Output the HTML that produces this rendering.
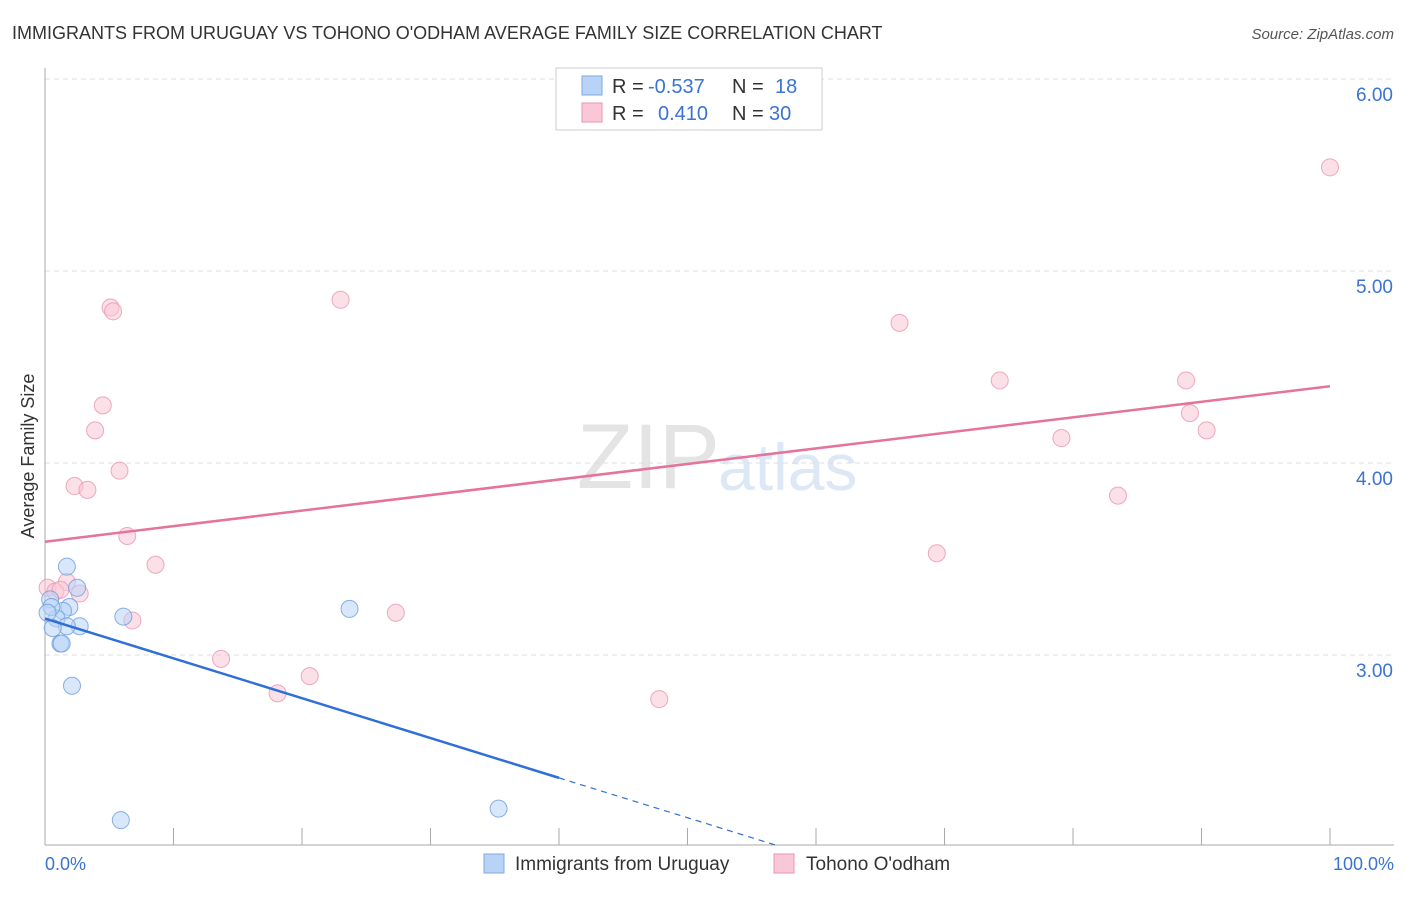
<!DOCTYPE html>
<html><head><meta charset="utf-8"><style>
body{margin:0;background:#fff;font-family:"Liberation Sans",sans-serif}
svg text{font-family:"Liberation Sans",sans-serif}
</style></head><body>
<svg id="c" width="1406" height="892" xmlns="http://www.w3.org/2000/svg">
<text x="12" y="39" font-size="18" fill="#333">IMMIGRANTS FROM URUGUAY VS TOHONO O'ODHAM AVERAGE FAMILY SIZE CORRELATION CHART</text>
<text x="1394" y="39" font-size="15" fill="#555" font-style="italic" text-anchor="end">Source: ZipAtlas.com</text>
<text x="720" y="488" font-size="92" fill="#e4e4e4" text-anchor="end" font-family="Liberation Serif">ZIP</text>
<text x="718" y="490" font-size="66" fill="#dce8f5">atlas</text>
<text transform="translate(34,456) rotate(-90)" font-size="18" fill="#333" text-anchor="middle">Average Family Size</text>
<g id="grid"></g><g id="marks"></g>
<rect x="556" y="68" width="266" height="62" fill="#fff" stroke="#ccc"/>
<rect x="582" y="76" width="20" height="19" fill="#b8d3f5" stroke="#7fa9e0"/>
<rect x="582" y="103" width="20" height="19" fill="#f9c7d6" stroke="#e995b2"/>
<text y="93" font-size="20"><tspan x="612" fill="#333">R = </tspan><tspan x="648" fill="#3a73d1">-0.537</tspan><tspan x="732" fill="#333">N = </tspan><tspan x="775" fill="#3a73d1">18</tspan></text>
<text y="120" font-size="20"><tspan x="612" fill="#333">R = </tspan><tspan x="658" fill="#3a73d1">0.410</tspan><tspan x="732" fill="#333">N = </tspan><tspan x="769" fill="#3a73d1">30</tspan></text>
<text x="45" y="870" font-size="18" fill="#3a73d1">0.0%</text>
<text x="1394" y="870" font-size="18" fill="#3a73d1" text-anchor="end">100.0%</text>
<rect x="484" y="854" width="20" height="19" fill="#b8d3f5" stroke="#7fa9e0"/>
<text x="515" y="870" font-size="19" fill="#333">Immigrants from Uruguay</text>
<rect x="774" y="854" width="20" height="19" fill="#f9c7d6" stroke="#e995b2"/>
<text x="806" y="870" font-size="19" fill="#333">Tohono O'odham</text>
</svg>
<script>
const yTicks=[3,4,5,6];
const yTickLabels=["3.00","4.00","5.00","6.00"];
const blueX=[1.7,2.5,0.4,1.9,1.4,0.9,2.7,1.7,0.6,1.2,1.3,2.1,0.5,6.1,23.7,35.3,5.9,0.2];
const blueY=[3.46,3.35,3.29,3.25,3.23,3.19,3.15,3.15,3.14,3.06,3.06,2.84,3.25,3.20,3.24,2.20,2.14,3.22];
const pinkX=[5.1,5.3,23.0,4.5,3.9,5.8,2.3,3.3,6.4,8.6,1.7,2.7,0.2,0.8,1.2,6.8,27.3,13.7,20.6,18.1,47.8,66.5,74.3,88.8,89.1,90.4,79.1,83.5,69.4,100];
const pinkY=[4.81,4.79,4.85,4.30,4.17,3.96,3.88,3.86,3.62,3.47,3.38,3.32,3.35,3.33,3.34,3.18,3.22,2.98,2.89,2.80,2.77,4.73,4.43,4.43,4.26,4.17,4.13,3.83,3.53,5.54];
const blueTrend=[3.19,-0.02075];
const pinkTrend=[3.59,0.0081];
const NS="http://www.w3.org/2000/svg";
const X=p=>45+p*12.85, Y=v=>655-(v-3)*192;
function mk(t,a,par){const e=document.createElementNS(NS,t);for(const k in a)e.setAttribute(k,a[k]);document.getElementById(par).appendChild(e);return e;}
yTicks.forEach((v,i)=>{
 const l=mk('line',{x1:45,x2:1394,y1:Y(v),y2:Y(v),stroke:'#ddd','stroke-dasharray':'5,4'},'grid');
 
 
 const t=mk('text',{x:1393,y:Y(v)+22,'font-size':19,fill:'#3a73d1','text-anchor':'end'},'grid');t.textContent=yTickLabels[i];
 
 
});
const ax=mk('line',{x1:45,x2:45,y1:68,y2:845,stroke:'#aaa'},'grid');


const bx=mk('line',{x1:45,x2:1394,y1:845,y2:845,stroke:'#aaa'},'grid');


for(let i=0;i<=10;i++){const t=mk('line',{x1:X(i*10),x2:X(i*10),y1:828,y2:845,stroke:'#aaa'},'grid');
 
 }
function dots(xs,ys,f,s,name){xs.forEach((x,i)=>{const c=mk('circle',{cx:X(x),cy:Y(ys[i]),r:8.5,fill:f,'fill-opacity':0.55,stroke:s,'stroke-opacity':0.8},'marks');
 
 });}
dots(pinkX,pinkY,'#f9c7d6','#e995b2','point-tohono');
dots(blueX,blueY,'#b8d3f5','#6d9ee0','point-uruguay');
const pl=mk('line',{x1:X(0),y1:Y(pinkTrend[0]),x2:X(100),y2:Y(pinkTrend[0]+pinkTrend[1]*100),stroke:'#e5739a','stroke-width':2.5},'marks');


const bl=mk('line',{x1:X(0),y1:Y(blueTrend[0]),x2:X(40),y2:Y(blueTrend[0]+blueTrend[1]*40),stroke:'#2f6fd6','stroke-width':2.5},'marks');


const xe=(blueTrend[0]-2.01)/-blueTrend[1];
const bd=mk('line',{x1:X(40),y1:Y(blueTrend[0]+blueTrend[1]*40),x2:X(xe),y2:Y(blueTrend[0]+blueTrend[1]*xe),stroke:'#2f6fd6','stroke-width':1.2,'stroke-dasharray':'6,5'},'marks');


</script>
</body></html>
